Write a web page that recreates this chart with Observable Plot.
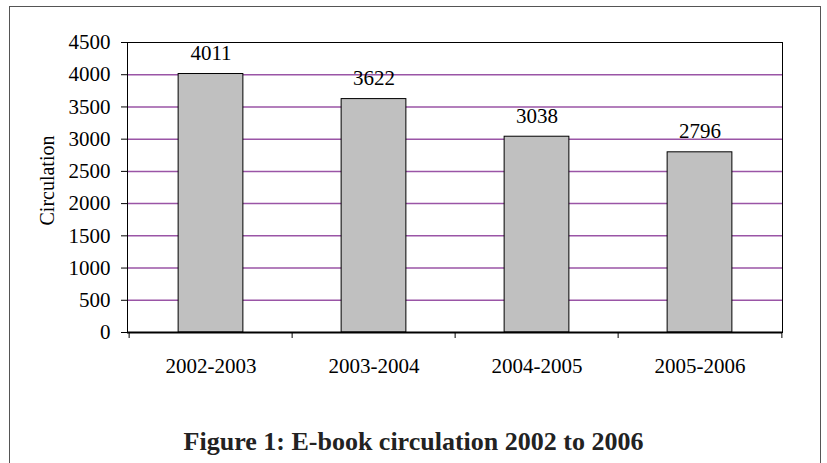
<!DOCTYPE html>
<html>
<head>
<meta charset="utf-8">
<script src="https://cdn.jsdelivr.net/npm/d3@7"></script>
<script src="https://cdn.jsdelivr.net/npm/@observablehq/plot@0.6"></script>
<style>
  html, body { margin: 0; padding: 0; background: #fff; }
  #wrap { position: relative; width: 827px; height: 463px; overflow: hidden; background: #fff; }
  #border { position: absolute; left: 9px; top: 6px; width: 812px; height: 470px; border: 1.5px solid #555; border-bottom: none; box-sizing: border-box; }
  #chart { position: absolute; left: 0; top: 0; }
  #caption { position: absolute; left: 0; width: 827px; top: 427px; text-align: center; line-height: 30px;
    font-family: "Liberation Serif", serif; font-weight: bold; font-size: 26px; color: #222; }
</style>
</head>
<body>
<div id="wrap">
  <div id="border"></div>
  <div id="chart"></div>
  <div id="caption">Figure 1: E-book circulation 2002 to 2006</div>
</div>
<script>
const periods = ["2002-2003", "2003-2004", "2004-2005", "2005-2006"];
const circulation = [4011, 3622, 3038, 2796];
const yTicks = [0, 500, 1000, 1500, 2000, 2500, 3000, 3500, 4000, 4500];
const gridValues = [500, 1000, 1500, 2000, 2500, 3000, 3500, 4000];
const yLabel = "Circulation";

const data = periods.map((p, i) => ({period: p, value: circulation[i]}));

const W = 827, H = 400;
const mL = 127, mR = 45, mT = 42, mB = 68;
const band = (W - mL - mR) / periods.length;
const font = "Liberation Serif, Times New Roman, serif";

const chart = Plot.plot({
  width: W,
  height: H,
  marginLeft: mL,
  marginRight: mR,
  marginTop: mT,
  marginBottom: mB,
  style: {fontFamily: font, fontSize: "21px", color: "#000", background: "transparent"},
  x: {domain: periods, padding: 0, label: null},
  y: {domain: [0, 4500], label: null},
  marks: [
    Plot.ruleY(gridValues, {stroke: "#9a55a6", strokeWidth: 1.5}),
    Plot.barY(data, {x: "period", y: "value", fill: "#c0c0c0", stroke: "#000", strokeWidth: 1,
      insetLeft: band * 0.3, insetRight: band * 0.3}),
    Plot.frame({stroke: "#000", strokeWidth: 1}),
    Plot.ruleY([0], {stroke: "#000", strokeWidth: 2}),
    Plot.ruleX(periods, {x: d => d, dx: -band / 2, y1: 0, y2: 0, insetBottom: -6, stroke: "#000"}),
    Plot.ruleX([periods[periods.length - 1]], {x: d => d, dx: band / 2, y1: 0, y2: 0, insetBottom: -6, stroke: "#000"}),
    Plot.axisY({ticks: yTicks, tickSize: 6, tickPadding: 11, tickFormat: d => String(d), label: null, fontSize: 21}),
    Plot.axisX({tickSize: 0, tickPadding: 26, label: null, fontSize: 21}),
    Plot.text(data, {x: "period", y: "value", text: d => String(d.value), lineAnchor: "bottom", dy: -14, fontSize: 21, fill: "#000"}),
    Plot.text([yLabel], {frameAnchor: "left", dx: -80, dy: 38, rotate: -90, text: d => d, fontSize: 20, fill: "#000"})
  ]
});
document.getElementById("chart").appendChild(chart);
</script>
</body>
</html>
